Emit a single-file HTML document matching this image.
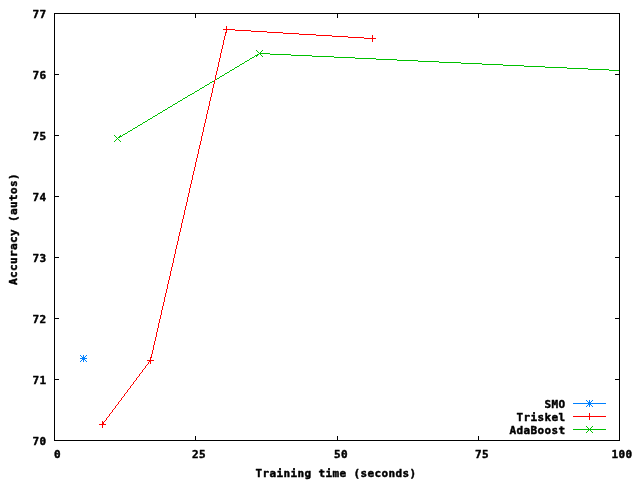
<!DOCTYPE html>
<html><head><meta charset="utf-8"><title>Accuracy vs training time</title>
<style>html,body{margin:0;padding:0;background:#fff}svg{display:block}text{font-family:"DejaVu Sans Mono","Liberation Mono",monospace;font-weight:bold;font-size:11.0px;fill:#000;stroke:#000;stroke-width:0.45px;stroke-linejoin:round}</style></head><body>
<svg width="640" height="480" viewBox="0 0 640 480">
<rect width="640" height="480" fill="#fff"/>
<g shape-rendering="crispEdges" fill="none" stroke-width="1" stroke-linecap="square">
<path d="M259,53.5h11M257,54.5h2M270,54.5h21M255,55.5h2M291,55.5h21M312,56.5h22M252,57.5h2M334,57.5h21M250,58.5h2M355,58.5h21M376,59.5h21M247,60.5h2M397,60.5h21M245,61.5h2M418,61.5h21M439,62.5h22M242,63.5h2M461,63.5h21M240,64.5h2M482,64.5h21M503,65.5h21M237,66.5h2M524,66.5h21M235,67.5h2M545,67.5h22M567,68.5h21M232,69.5h2M588,69.5h21M230,70.5h2M609,70.5h11M227,72.5h2M225,73.5h2M222,75.5h2M220,76.5h2M217,78.5h2M215,79.5h2M212,81.5h2M210,82.5h2M207,84.5h2M205,85.5h2M202,87.5h2M200,88.5h2M197,90.5h2M195,91.5h2M192,93.5h2M190,94.5h2M188,95.5h2M185,97.5h2M183,98.5h2M180,100.5h2M178,101.5h2M175,103.5h2M173,104.5h2M170,106.5h2M168,107.5h2M165,109.5h2M163,110.5h2M160,112.5h2M158,113.5h2M155,115.5h2M153,116.5h2M150,118.5h2M148,119.5h2M145,121.5h2M143,122.5h2M140,124.5h2M138,125.5h2M135,127.5h2M133,128.5h2M130,130.5h2M128,131.5h2M125,133.5h2M123,134.5h2M120,136.5h2M118,137.5h2M117.5,138v1M122.5,135v1M127.5,132v1M132.5,129v1M137.5,126v1M142.5,123v1M147.5,120v1M152.5,117v1M157.5,114v1M162.5,111v1M167.5,108v1M172.5,105v1M177.5,102v1M182.5,99v1M187.5,96v1M194.5,92v1M199.5,89v1M204.5,86v1M209.5,83v1M214.5,80v1M219.5,77v1M224.5,74v1M229.5,71v1M234.5,68v1M239.5,65v1M244.5,62v1M249.5,59v1M254.5,56v1" stroke="#00c000" stroke-linecap="butt"/>
<path d="M226,29.5h9M235,30.5h16M251,31.5h16M267,32.5h16M283,33.5h16M299,34.5h17M316,35.5h16M332,36.5h16M348,37.5h16M364,38.5h9M102.5,424v1M103.5,422v2M104.5,421v1M105.5,420v1M106.5,418v2M107.5,417v1M108.5,416v1M109.5,414v2M110.5,413v1M111.5,412v1M112.5,410v2M113.5,409v1M114.5,408v1M115.5,406v2M116.5,405v1M117.5,404v1M118.5,402v2M119.5,401v1M120.5,400v1M121.5,398v2M122.5,397v1M123.5,396v1M124.5,394v2M125.5,393v1M126.5,392v1M127.5,390v2M128.5,389v1M129.5,388v1M130.5,386v2M131.5,385v1M132.5,384v1M133.5,382v2M134.5,381v1M135.5,380v1M136.5,378v2M137.5,377v1M138.5,376v1M139.5,374v2M140.5,373v1M141.5,372v1M142.5,370v2M143.5,369v1M144.5,368v1M145.5,366v2M146.5,365v1M147.5,364v1M148.5,362v2M149.5,361v1M150.5,358v3M151.5,354v4M152.5,350v4M153.5,345v5M154.5,341v4M155.5,337v4M156.5,332v5M157.5,328v4M158.5,323v5M159.5,319v4M160.5,315v4M161.5,310v5M162.5,306v4M163.5,302v4M164.5,297v5M165.5,293v4M166.5,289v4M167.5,284v5M168.5,280v4M169.5,276v4M170.5,271v5M171.5,267v4M172.5,263v4M173.5,258v5M174.5,254v4M175.5,249v5M176.5,245v4M177.5,241v4M178.5,236v5M179.5,232v4M180.5,228v4M181.5,223v5M182.5,219v4M183.5,215v4M184.5,210v5M185.5,206v4M186.5,202v4M187.5,197v5M188.5,193v4M189.5,188v5M190.5,184v4M191.5,180v4M192.5,175v5M193.5,171v4M194.5,167v4M195.5,162v5M196.5,158v4M197.5,154v4M198.5,149v5M199.5,145v4M200.5,141v4M201.5,136v5M202.5,132v4M203.5,127v5M204.5,123v4M205.5,119v4M206.5,114v5M207.5,110v4M208.5,106v4M209.5,101v5M210.5,97v4M211.5,93v4M212.5,88v5M213.5,84v4M214.5,80v4M215.5,75v5M216.5,71v4M217.5,67v4M218.5,62v5M219.5,58v4M220.5,53v5M221.5,49v4M222.5,45v4M223.5,40v5M224.5,36v4M225.5,32v4M226.5,30v2" stroke="#ff0000" stroke-linecap="butt"/>
<path d="M99,424.5H106M102.5,421V428" stroke="#ff0000" stroke-linecap="butt"/>
<path d="M147,360.5H154M150.5,357V364" stroke="#ff0000" stroke-linecap="butt"/>
<path d="M223,29.5H230M226.5,26V33" stroke="#ff0000" stroke-linecap="butt"/>
<path d="M369,38.5H376M372.5,35V42" stroke="#ff0000" stroke-linecap="butt"/>
<rect x="114" y="135" width="1" height="1" fill="#00c000" stroke="none"/><rect x="114" y="141" width="1" height="1" fill="#00c000" stroke="none"/><rect x="115" y="136" width="1" height="1" fill="#00c000" stroke="none"/><rect x="115" y="140" width="1" height="1" fill="#00c000" stroke="none"/><rect x="116" y="137" width="1" height="1" fill="#00c000" stroke="none"/><rect x="116" y="139" width="1" height="1" fill="#00c000" stroke="none"/><rect x="117" y="138" width="1" height="1" fill="#00c000" stroke="none"/><rect x="118" y="139" width="1" height="1" fill="#00c000" stroke="none"/><rect x="118" y="137" width="1" height="1" fill="#00c000" stroke="none"/><rect x="119" y="140" width="1" height="1" fill="#00c000" stroke="none"/><rect x="119" y="136" width="1" height="1" fill="#00c000" stroke="none"/><rect x="120" y="141" width="1" height="1" fill="#00c000" stroke="none"/><rect x="120" y="135" width="1" height="1" fill="#00c000" stroke="none"/>
<rect x="256" y="50" width="1" height="1" fill="#00c000" stroke="none"/><rect x="256" y="56" width="1" height="1" fill="#00c000" stroke="none"/><rect x="257" y="51" width="1" height="1" fill="#00c000" stroke="none"/><rect x="257" y="55" width="1" height="1" fill="#00c000" stroke="none"/><rect x="258" y="52" width="1" height="1" fill="#00c000" stroke="none"/><rect x="258" y="54" width="1" height="1" fill="#00c000" stroke="none"/><rect x="259" y="53" width="1" height="1" fill="#00c000" stroke="none"/><rect x="260" y="54" width="1" height="1" fill="#00c000" stroke="none"/><rect x="260" y="52" width="1" height="1" fill="#00c000" stroke="none"/><rect x="261" y="55" width="1" height="1" fill="#00c000" stroke="none"/><rect x="261" y="51" width="1" height="1" fill="#00c000" stroke="none"/><rect x="262" y="56" width="1" height="1" fill="#00c000" stroke="none"/><rect x="262" y="50" width="1" height="1" fill="#00c000" stroke="none"/>
<path d="M80,358.5H87M83.5,355V362" stroke="#0080ff" stroke-linecap="butt"/><rect x="80" y="355" width="1" height="1" fill="#0080ff" stroke="none"/><rect x="80" y="361" width="1" height="1" fill="#0080ff" stroke="none"/><rect x="81" y="356" width="1" height="1" fill="#0080ff" stroke="none"/><rect x="81" y="360" width="1" height="1" fill="#0080ff" stroke="none"/><rect x="82" y="357" width="1" height="1" fill="#0080ff" stroke="none"/><rect x="82" y="359" width="1" height="1" fill="#0080ff" stroke="none"/><rect x="83" y="358" width="1" height="1" fill="#0080ff" stroke="none"/><rect x="84" y="359" width="1" height="1" fill="#0080ff" stroke="none"/><rect x="84" y="357" width="1" height="1" fill="#0080ff" stroke="none"/><rect x="85" y="360" width="1" height="1" fill="#0080ff" stroke="none"/><rect x="85" y="356" width="1" height="1" fill="#0080ff" stroke="none"/><rect x="86" y="361" width="1" height="1" fill="#0080ff" stroke="none"/><rect x="86" y="355" width="1" height="1" fill="#0080ff" stroke="none"/><rect x="82" y="357" width="3" height="3" fill="#0080ff" stroke="none"/>
<path d="M573,403.5H606" stroke="#0080ff" stroke-linecap="butt"/>
<path d="M586,403.5H593M589.5,400V407" stroke="#0080ff" stroke-linecap="butt"/><rect x="586" y="400" width="1" height="1" fill="#0080ff" stroke="none"/><rect x="586" y="406" width="1" height="1" fill="#0080ff" stroke="none"/><rect x="587" y="401" width="1" height="1" fill="#0080ff" stroke="none"/><rect x="587" y="405" width="1" height="1" fill="#0080ff" stroke="none"/><rect x="588" y="402" width="1" height="1" fill="#0080ff" stroke="none"/><rect x="588" y="404" width="1" height="1" fill="#0080ff" stroke="none"/><rect x="589" y="403" width="1" height="1" fill="#0080ff" stroke="none"/><rect x="590" y="404" width="1" height="1" fill="#0080ff" stroke="none"/><rect x="590" y="402" width="1" height="1" fill="#0080ff" stroke="none"/><rect x="591" y="405" width="1" height="1" fill="#0080ff" stroke="none"/><rect x="591" y="401" width="1" height="1" fill="#0080ff" stroke="none"/><rect x="592" y="406" width="1" height="1" fill="#0080ff" stroke="none"/><rect x="592" y="400" width="1" height="1" fill="#0080ff" stroke="none"/><rect x="588" y="402" width="3" height="3" fill="#0080ff" stroke="none"/>
<path d="M573,416.5H606" stroke="#ff0000" stroke-linecap="butt"/>
<path d="M586,416.5H593M589.5,413V420" stroke="#ff0000" stroke-linecap="butt"/>
<path d="M573,429.5H606" stroke="#00c000" stroke-linecap="butt"/>
<rect x="586" y="426" width="1" height="1" fill="#00c000" stroke="none"/><rect x="586" y="432" width="1" height="1" fill="#00c000" stroke="none"/><rect x="587" y="427" width="1" height="1" fill="#00c000" stroke="none"/><rect x="587" y="431" width="1" height="1" fill="#00c000" stroke="none"/><rect x="588" y="428" width="1" height="1" fill="#00c000" stroke="none"/><rect x="588" y="430" width="1" height="1" fill="#00c000" stroke="none"/><rect x="589" y="429" width="1" height="1" fill="#00c000" stroke="none"/><rect x="590" y="430" width="1" height="1" fill="#00c000" stroke="none"/><rect x="590" y="428" width="1" height="1" fill="#00c000" stroke="none"/><rect x="591" y="431" width="1" height="1" fill="#00c000" stroke="none"/><rect x="591" y="427" width="1" height="1" fill="#00c000" stroke="none"/><rect x="592" y="432" width="1" height="1" fill="#00c000" stroke="none"/><rect x="592" y="426" width="1" height="1" fill="#00c000" stroke="none"/>
<rect x="54.5" y="13.5" width="565" height="427" stroke="#000"/>
<path d="M54,440.5h5M620,440.5h-5M54,379.5h5M620,379.5h-5M54,318.5h5M620,318.5h-5M54,257.5h5M620,257.5h-5M54,196.5h5M620,196.5h-5M54,135.5h5M620,135.5h-5M54,74.5h5M620,74.5h-5M54,13.5h5M620,13.5h-5M54.5,441v-5M54.5,13v5M195.5,441v-5M195.5,13v5M337.5,441v-5M337.5,13v5M478.5,441v-5M478.5,13v5M619.5,441v-5M619.5,13v5" stroke="#000" stroke-linecap="butt"/>
</g>
<g>
<text x="32.5 39.5" y="445">70</text>
<text x="32.5 39.5" y="384">71</text>
<text x="32.5 39.5" y="323">72</text>
<text x="32.5 39.5" y="262">73</text>
<text x="32.5 39.5" y="201">74</text>
<text x="32.5 39.5" y="140">75</text>
<text x="32.5 39.5" y="79">76</text>
<text x="32.5 39.5" y="18">77</text>
<text x="54" y="458">0</text>
<text x="192 199" y="458">25</text>
<text x="334 341" y="458">50</text>
<text x="475 482" y="458">75</text>
<text x="611.5 618.5 625.5" y="458">100</text>
<text x="255.5 262.5 269.5 276.5 283.5 290.5 297.5 304.5 311.5 318.5 325.5 332.5 339.5 346.5 353.5 360.5 367.5 374.5 381.5 388.5 395.5 402.5 409.5" y="477">Training time (seconds)</text>
<text x="544.5 551.5 558.5" y="408">SMO</text>
<text x="516.5 523.5 530.5 537.5 544.5 551.5 558.5" y="421">Triskel</text>
<text x="509.5 516.5 523.5 530.5 537.5 544.5 551.5 558.5" y="434">AdaBoost</text>
<g transform="translate(17,284.5) rotate(-90)"><text x="-0.5 6.5 13.5 20.5 27.5 34.5 41.5 48.5 55.5 62.5 69.5 76.5 83.5 90.5 97.5 104.5" y="0">Accuracy (autos)</text></g>
</g>
</svg></body></html>
